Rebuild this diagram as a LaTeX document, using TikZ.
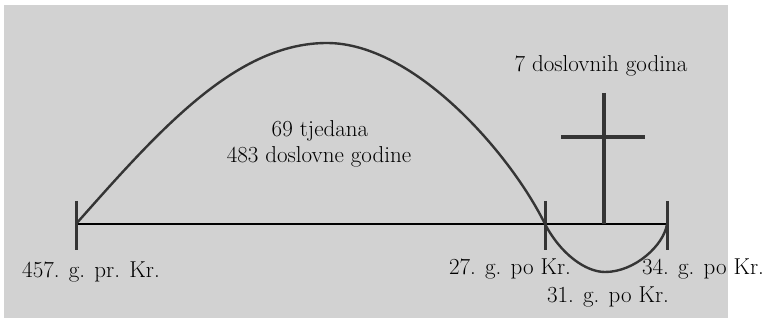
\documentclass[tikz,border=0pt]{standalone}
\usetikzlibrary{positioning}
\definecolor{tlgray}{HTML}{D2D2D2}
\definecolor{tldark}{HTML}{353535}

\begin{document}
\begin{tikzpicture}[x=1pt, y=-1pt, line width=2.6pt,
    font=\fontsize{23}{27}\selectfont,
    date/.style={anchor=base, inner sep=0pt}]
  \useasboundingbox (0,0) rectangle (766,323);
  % background
  \fill[tlgray] (4,5) rectangle (728,318);
  % key points of the time line
  \coordinate (start) at (76,224);
  \coordinate (mid) at (545,224);
  \coordinate (end) at (667,224);
  \coordinate (peak) at (327,43);
  \coordinate (trough) at (605,272);
  % time line
  \draw[black] (start) -- (end);
  \foreach \p in {start, mid, end}
    \draw[tldark, line width=3pt] (\p) ++(0,-23) -- ++(0,49);
  % the weeks, then the last week
  \draw[tldark, line width=2.4pt] (start) .. controls (160.5,128.5) and (236.5,43) .. (peak)
    .. controls (414,43) and (510,153) .. (mid)
    .. controls (560,253) and (585,272) .. (trough)
    .. controls (635,272) and (664,245) .. (end);
  % cross
  \coordinate (crosstop) at (604,93);
  \coordinate (barleft) at (561,137);
  \coordinate (barright) at (645,137);
  \draw[tldark, line width=4.5pt] (crosstop) -- (crosstop |- start);
  \draw[tldark, line width=4.5pt] (barleft) -- (barright);
  % labels
  \node[date] (weeks) at (320,137) {69 tjedana};
  \node[date] (years) at (319,163) {483 doslovne godine};
  \node[date] (seven) at (601,72) {7 doslovnih godina};
  \node[date] (d457) at (91,277) {457. g. pr. Kr.};
  \node[date] (d27) at (510,275) {27. g. po Kr.};
  \node[date] (d34) at (703,275) {34. g. po Kr.};
  \node[date] (d31) at (608,302) {31. g. po Kr.};
\end{tikzpicture}
\end{document}
